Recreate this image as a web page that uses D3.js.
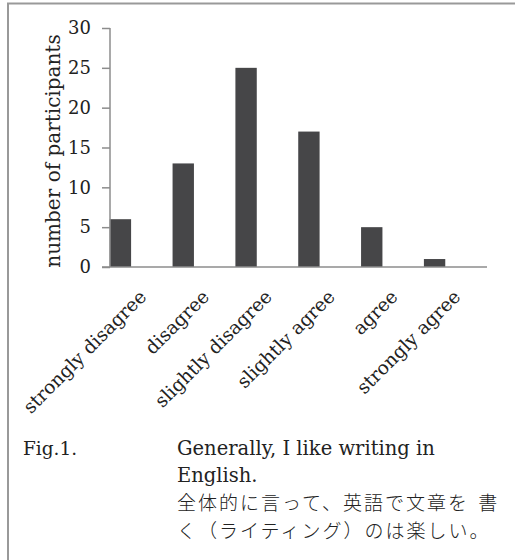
<!DOCTYPE html>
<html>
<head>
<meta charset="utf-8">
<script src="https://cdn.jsdelivr.net/npm/d3@7"></script>
<style>
  html, body { margin: 0; padding: 0; background: #fff; }
  svg { display: block; }
  text { fill: #222; }
</style>
</head>
<body>
<script>
const categories = ["strongly disagree", "disagree", "slightly disagree", "slightly agree", "agree", "strongly agree"];
const values = [6, 13, 25, 17, 5, 1];
const yTicks = [0, 5, 10, 15, 20, 25, 30];
const yLabel = "number of participants";
const figLabel = "Fig.1.";
const captionLines = ["Generally, I like writing in", "English.", "全体的に言って、英語で文章を 書", "く（ライティング）のは楽しい。"];

const W = 515, H = 560;
const serif = "'DejaVu Serif', serif";
const svg = d3.select("body").append("svg").attr("width", W).attr("height", H);

// frame
svg.append("path").attr("d", `M8,${H} L8,3.5 L${W},3.5`)
  .attr("fill", "none").attr("stroke", "#999").attr("stroke-width", 2);

const x = d3.scaleBand().domain(categories).range([89, 466]).padding(0);
const y = d3.scaleLinear().domain([0, 30]).range([267, 28]);
const axisColor = "#8c8c8c";

// bars
const bw = x.bandwidth() * 0.34;
svg.append("g").selectAll("rect").data(values).join("rect")
  .attr("x", (d, i) => x(categories[i]) + x.bandwidth() / 2 - bw / 2)
  .attr("y", d => y(d))
  .attr("width", bw)
  .attr("height", d => y(0) - y(d))
  .attr("fill", "#464648");

// y axis
const yAxis = svg.append("g").attr("transform", "translate(110,0)")
  .call(d3.axisLeft(y).tickValues(yTicks).tickSize(8).tickPadding(11));
yAxis.select(".domain").attr("stroke", axisColor).attr("stroke-width", 1.5).attr("d", `M0,${y(30)}V${y(0)}`);
yAxis.selectAll(".tick line").attr("stroke", axisColor).attr("stroke-width", 1.5);
yAxis.selectAll(".tick text").attr("font-family", serif).attr("font-size", 18).attr("fill", "#222");

// x axis line
svg.append("line").attr("x1", 102).attr("x2", 487).attr("y1", y(0)).attr("y2", y(0))
  .attr("stroke", axisColor).attr("stroke-width", 1.5);

// x labels
svg.append("g").selectAll("text").data(categories).join("text")
  .attr("transform", d => `translate(${x(d) + x.bandwidth() / 2 + 27},${y(0) + 31}) rotate(-45)`)
  .attr("text-anchor", "end")
  .attr("font-family", serif).attr("font-size", 18.6)
  .text(d => d);

// y label
svg.append("text")
  .attr("transform", "translate(60,151) rotate(-90)")
  .attr("text-anchor", "middle")
  .attr("font-family", serif).attr("font-size", 20)
  .text(yLabel);

// caption
svg.append("text").attr("x", 23).attr("y", 455)
  .attr("font-family", serif).attr("font-size", 18.5).text(figLabel);
const capY = [455, 482, 510, 538];
svg.append("g").selectAll("text").data(captionLines).join("text")
  .attr("x", 177).attr("y", (d, i) => capY[i])
  .attr("font-family", (d, i) => i < 2 ? serif : "'Noto Sans CJK JP', sans-serif")
  .attr("font-size", (d, i) => i < 2 ? 19.5 : 19)
  .attr("letter-spacing", (d, i) => i < 2 ? 0 : 2)
  .attr("word-spacing", (d, i) => i < 2 ? 0 : 3)
  .attr("font-weight", (d, i) => i < 2 ? 400 : 300)
  .text(d => d);
</script>
</body>
</html>
